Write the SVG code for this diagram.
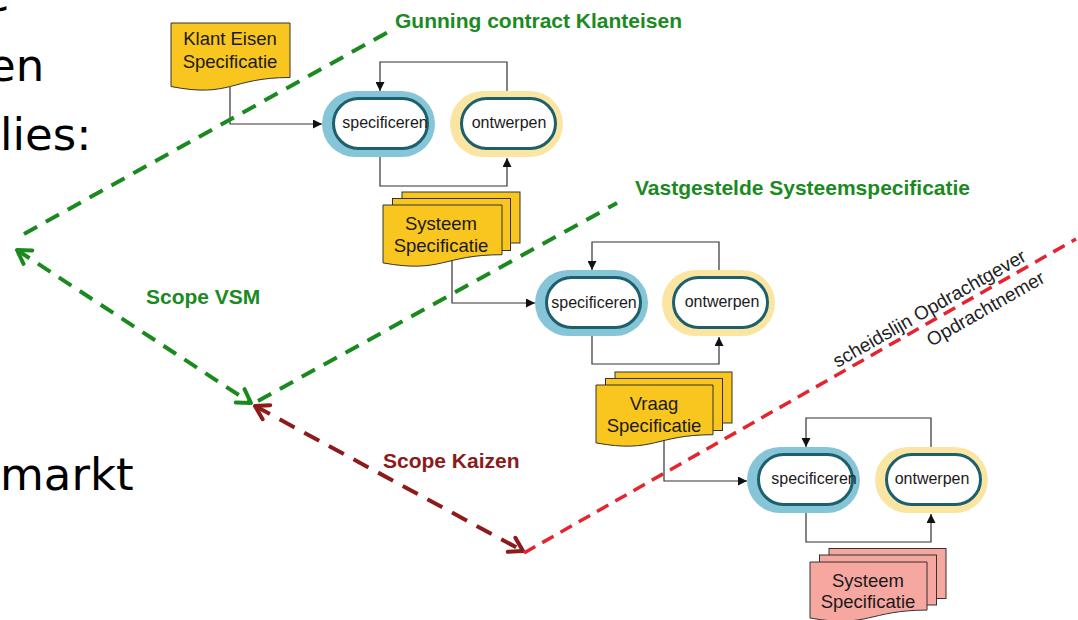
<svg xmlns="http://www.w3.org/2000/svg" width="1078" height="620" viewBox="0 0 1078 620">
<style>
.big{font-family:"DejaVu Sans",Verdana,sans-serif;font-size:45px;fill:#000}
.doc{stroke:#333;stroke-width:1}
.yel{fill:#f8c61e}
.pink{fill:#f5a7a0}
.dt{font-family:"Liberation Sans",Arial,sans-serif;font-size:18.5px;fill:#1a1a1a;text-anchor:middle}
.pt{font-family:"Liberation Sans",Arial,sans-serif;font-size:16px;fill:#1a1a1a;text-anchor:middle}
.ringb{fill:#86c5d7}
.ringy{fill:#fae6a2}
.inner{fill:#fff;stroke:#1d5f6b;stroke-width:3}
.con{fill:none;stroke:#333;stroke-width:1.2}
.g{fill:none;stroke:#1a8a1f;stroke-width:4;stroke-dasharray:15 10}
.dr{fill:none;stroke:#8e1b1b;stroke-width:4;stroke-dasharray:17 11}
.r{fill:none;stroke:#e42530;stroke-width:3.5;stroke-dasharray:13 8}
.lg{font-family:"Liberation Sans",Arial,sans-serif;font-size:21px;font-weight:bold;fill:#1b8a22}
.lr{font-family:"Liberation Sans",Arial,sans-serif;font-size:21px;font-weight:bold;fill:#8b1a1a}
.sl{font-family:"Liberation Sans",Arial,sans-serif;font-size:19px;fill:#222}
</style>
<defs>
<marker id="ah" viewBox="0 0 10 10" refX="10" refY="5" markerWidth="9" markerHeight="9" markerUnits="userSpaceOnUse" orient="auto"><path d="M0,0 L10,5 L0,10 Z" fill="#111"/></marker>
<marker id="ag" viewBox="0 0 20 20" refX="17" refY="10" markerWidth="20" markerHeight="20" markerUnits="userSpaceOnUse" orient="auto-start-reverse" overflow="visible"><path d="M4,2 L17,10 L4,18" fill="none" stroke="#1a8a1f" stroke-width="4" stroke-linecap="round" stroke-linejoin="round"/></marker>
<marker id="ar" viewBox="0 0 20 20" refX="17" refY="10" markerWidth="20" markerHeight="20" markerUnits="userSpaceOnUse" orient="auto-start-reverse" overflow="visible"><path d="M4,2 L17,10 L4,18" fill="none" stroke="#8e1b1b" stroke-width="4" stroke-linecap="round" stroke-linejoin="round"/></marker>
</defs>
<rect width="1078" height="620" fill="#fff"/>

<g id="slide-text">
<text class="big" x="-18" y="11">e</text>
<text class="big" x="-12" y="81">en</text>
<text class="big" x="0" y="150">lies:</text>
<text class="big" x="0" y="490">markt</text>
</g>

<g id="doc-klant">
<path class="doc yel" d="M171,23 H290 V77.5 C230.5,77.5 230.5,98.3 171,86.5 Z"/>
<text class="dt" x="230" y="45">Klant Eisen</text>
<text class="dt" x="230" y="68">Specificatie</text>
</g>

<g id="spec1">
<rect class="ringb" x="322" y="91" width="113" height="66" rx="33"/>
<rect class="inner" x="333.5" y="98.5" width="94" height="50" rx="25"/>
<text class="pt" x="385" y="128">specificeren</text>
</g>
<g id="ont1">
<rect class="ringy" x="450" y="91" width="113" height="66" rx="33"/>
<rect class="inner" x="461.5" y="98.5" width="94" height="50" rx="25"/>
<text class="pt" x="509" y="128">ontwerpen</text>
</g>

<g id="doc-sys1">
<rect class="doc yel" x="402" y="192" width="118" height="51"/>
<rect class="doc yel" x="392.5" y="198.5" width="118" height="52"/>
<path class="doc yel" d="M383,205 H502 V254.7 C442.5,254.7 442.5,273.6 383,262.9 Z"/>
<text class="dt" x="441" y="230">Systeem</text>
<text class="dt" x="441" y="252">Specificatie</text>
</g>

<g id="spec2">
<rect class="ringb" x="535" y="270" width="113" height="66" rx="33"/>
<rect class="inner" x="546.5" y="277.5" width="94" height="50" rx="25"/>
<text class="pt" x="594" y="308">specificeren</text>
</g>
<g id="ont2">
<rect class="ringy" x="662" y="270" width="113" height="66" rx="33"/>
<rect class="inner" x="673.5" y="277.5" width="94" height="50" rx="25"/>
<text class="pt" x="722" y="307">ontwerpen</text>
</g>

<g id="doc-vraag">
<rect class="doc yel" x="615" y="372" width="117" height="51"/>
<rect class="doc yel" x="605.5" y="378.5" width="117" height="52"/>
<path class="doc yel" d="M596,385 H713 V434.7 C654.5,434.7 654.5,453.6 596,442.9 Z"/>
<text class="dt" x="654" y="410">Vraag</text>
<text class="dt" x="654" y="432">Specificatie</text>
</g>

<g id="spec3">
<rect class="ringb" x="747" y="447" width="113" height="66" rx="33"/>
<rect class="inner" x="758.5" y="454.5" width="94" height="50" rx="25"/>
<text class="pt" x="814" y="484">specificeren</text>
</g>
<g id="ont3">
<rect class="ringy" x="875" y="447" width="113" height="66" rx="33"/>
<rect class="inner" x="886.5" y="454.5" width="94" height="50" rx="25"/>
<text class="pt" x="932" y="484">ontwerpen</text>
</g>

<g id="doc-sys2">
<rect class="doc pink" x="829" y="548.5" width="117" height="50"/>
<rect class="doc pink" x="819.5" y="555" width="117" height="50"/>
<path class="doc pink" d="M810,562 H927 V610.1 C868.5,610.1 868.5,628.4 810,618 Z"/>
<text class="dt" x="868" y="587">Systeem</text>
<text class="dt" x="868" y="608">Specificatie</text>
</g>

<g id="connectors">
<path class="con" d="M230,87 V124 H322" marker-end="url(#ah)"/>
<path class="con" d="M507,91 V62 H380 V91" marker-end="url(#ah)"/>
<path class="con" d="M380,157 V186 H507 V158" marker-end="url(#ah)"/>
<path class="con" d="M452,260 V303 H535" marker-end="url(#ah)"/>
<path class="con" d="M719,270 V242 H592 V270" marker-end="url(#ah)"/>
<path class="con" d="M592,336 V364 H719 V337" marker-end="url(#ah)"/>
<path class="con" d="M664,440 V481 H747" marker-end="url(#ah)"/>
<path class="con" d="M931,447 V418 H806 V447" marker-end="url(#ah)"/>
<path class="con" d="M806,513 V542 H931 V514" marker-end="url(#ah)"/>
</g>

<g id="boundaries">
<line class="g" x1="24" y1="234" x2="388" y2="32"/>
<line class="g" x1="17" y1="250" x2="251" y2="403" marker-start="url(#ag)" marker-end="url(#ag)"/>
<line class="g" x1="258" y1="401" x2="617" y2="203"/>
<line class="dr" x1="255" y1="406" x2="523" y2="551" marker-start="url(#ar)" marker-end="url(#ar)"/>
<line class="r" x1="524" y1="553" x2="1076" y2="239"/>
</g>

<g id="labels">
<text class="lg" x="395" y="28">Gunning contract Klanteisen</text>
<text class="lg" x="635" y="195">Vastgestelde Systeemspecificatie</text>
<text class="lg" x="146" y="304">Scope VSM</text>
<text class="lr" x="383" y="468">Scope Kaizen</text>
<g transform="translate(524,553) rotate(-29.6)">
<text class="sl" x="364" y="-6">scheidslijn Opdrachtgever</text>
<text class="sl" x="456" y="22">Opdrachtnemer</text>
</g>
</g>
</svg>
